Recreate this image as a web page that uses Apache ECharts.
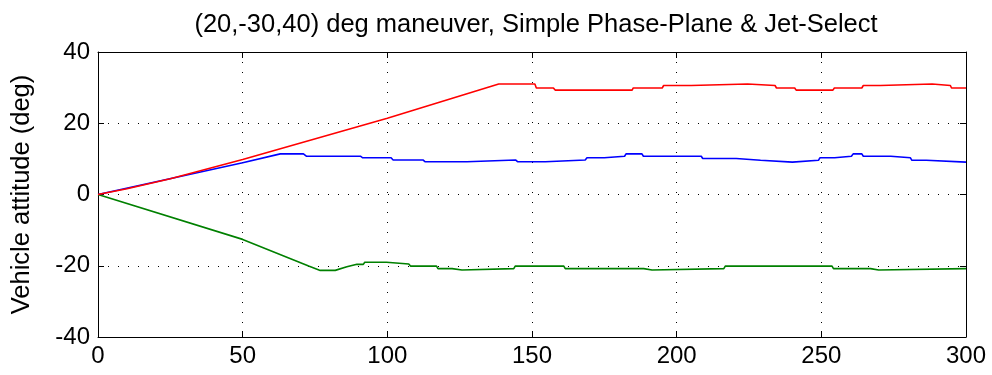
<!DOCTYPE html>
<html>
<head>
<meta charset="utf-8">
<script src="https://cdn.jsdelivr.net/npm/echarts@6/dist/echarts.min.js"></script>
<style>
  html, body { margin: 0; padding: 0; background: #fff; }
  #chart { width: 992px; height: 375px; }
</style>
</head>
<body>
<div id="chart"></div>
<script>
// Vehicle attitude histories, [time (s), attitude (deg)]
const axisRollDeg = [
  [0, 0], [50, 8.9], [63, 11.4], [71, 11.4], [72, 10.75], [90.7, 10.75], [91.5, 10.3],
  [101.3, 10.3], [102, 9.7], [112.3, 9.7], [113, 9.2], [127.5, 9.2], [128, 9.7],
  [144.3, 9.7], [145, 9.2], [154.6, 9.2], [155, 9.7], [168.4, 9.7], [169, 10.3],
  [175, 10.3], [175.5, 10.75], [182, 10.75], [182.5, 11.4], [188, 11.4], [188.5, 10.75],
  [208.5, 10.75], [209, 10.1], [220.6, 10.1], [221, 9.6], [229, 9.6], [229.5, 9.1],
  [240, 9.1], [240.5, 9.6], [249, 9.6], [249.5, 10.3], [254.6, 10.3], [255, 10.75],
  [260.4, 10.75], [261, 11.4], [264, 11.4], [264.5, 10.75], [274, 10.75], [274.5, 10.3],
  [280.8, 10.3], [281.3, 9.6], [286.3, 9.6], [286.8, 9.1], [300, 9.1]
];
const axisPitchDeg = [
  [0, 0], [50, -12.6], [72.8, -20.1], [76.8, -21.3], [82, -21.3], [86, -20.3],
  [89.5, -19.6], [91.7, -19.6], [92.2, -19.0], [99.7, -19.0], [100.2, -19.5],
  [107.4, -19.5], [108, -20.1], [117, -20.1], [117.5, -20.8], [122.4, -20.8],
  [123, -21.2], [125.8, -21.2], [126.3, -20.8], [143.7, -20.8], [144.2, -20.1],
  [161, -20.1], [161.5, -20.8], [188.6, -20.8], [189, -21.2], [191.5, -21.2],
  [192, -20.8], [216.3, -20.8], [216.8, -20.1], [253.7, -20.1], [254.2, -20.8],
  [267, -20.8], [267.5, -21.2], [269.8, -21.2], [270.3, -20.8], [300, -20.8]
];
const axisYawDeg = [
  [0, 0], [10, 1.6], [25, 4.4], [50, 9.8], [100, 21.4], [138.5, 31.0], [151, 31.0],
  [151.5, 29.9], [157.4, 29.9], [158, 29.3], [184.6, 29.3], [185, 29.9], [195, 29.9],
  [195.5, 30.6], [205, 30.6], [205.5, 31.0], [224.5, 31.0], [225, 30.6], [234, 30.6],
  [234.5, 29.9], [240.8, 29.9], [241.3, 29.3], [254, 29.3], [254.5, 29.9], [264, 29.9],
  [264.5, 30.6], [270.4, 30.6], [271, 31.0], [288.3, 31.0], [288.8, 30.6], [294.6, 30.6],
  [295, 29.9], [300, 29.9]
];

const titleText = '(20,-30,40) deg maneuver, Simple Phase-Plane & Jet-Select';
const yLabelText = 'Vehicle attitude (deg)';

const FONT = 'Liberation Sans, Arial, sans-serif';
const dotted = { color: '#000', width: 1, type: [1, 9] };
const boxLine = { show: true, onZero: false, lineStyle: { color: '#000', width: 1 } };
const inTicks = { show: true, inside: true, length: 6, lineStyle: { color: '#000' } };

const chart = echarts.init(document.getElementById('chart'), null, { renderer: 'canvas' });

const lineSeries = (data, color) => ({
  type: 'line',
  data: data,
  showSymbol: false,
  symbol: 'none',
  lineStyle: { color: color, width: 1.6 },
  itemStyle: { color: color },
  silent: true
});

chart.setOption({
  animation: false,
  backgroundColor: '#ffffff',
  title: {
    text: titleText,
    left: 531,
    textAlign: 'center',
    top: 7,
    textStyle: { fontFamily: FONT, fontSize: 25.5, fontWeight: 'normal', color: '#000' }
  },
  grid: { left: 98, right: 26, top: 52, bottom: 38 },
  xAxis: [
    {
      type: 'value', min: 0, max: 300, interval: 50, position: 'bottom',
      axisLine: boxLine, axisTick: inTicks,
      axisLabel: { margin: 7, color: '#000', fontFamily: FONT, fontSize: 24 },
      splitLine: { show: true, lineStyle: dotted }
    },
    {
      type: 'value', min: 0, max: 300, interval: 50, position: 'top',
      axisLine: boxLine, axisTick: inTicks,
      axisLabel: { show: false }, splitLine: { show: false }
    }
  ],
  yAxis: [
    {
      type: 'value', min: -40, max: 40, interval: 20, position: 'left',
      name: yLabelText, nameLocation: 'middle', nameGap: 63, nameRotate: 90,
      nameTextStyle: { fontFamily: FONT, fontSize: 25.5, color: '#000' },
      axisLine: boxLine, axisTick: inTicks,
      axisLabel: { margin: 8, color: '#000', fontFamily: FONT, fontSize: 24 },
      splitLine: { show: true, lineStyle: dotted }
    },
    {
      type: 'value', min: -40, max: 40, interval: 20, position: 'right',
      axisLine: boxLine, axisTick: inTicks,
      axisLabel: { show: false }, splitLine: { show: false }
    }
  ],
  series: [
    lineSeries(axisRollDeg, '#0000ff'),
    lineSeries(axisPitchDeg, '#008000'),
    lineSeries(axisYawDeg, '#ff0000')
  ]
});
</script>
</body>
</html>
